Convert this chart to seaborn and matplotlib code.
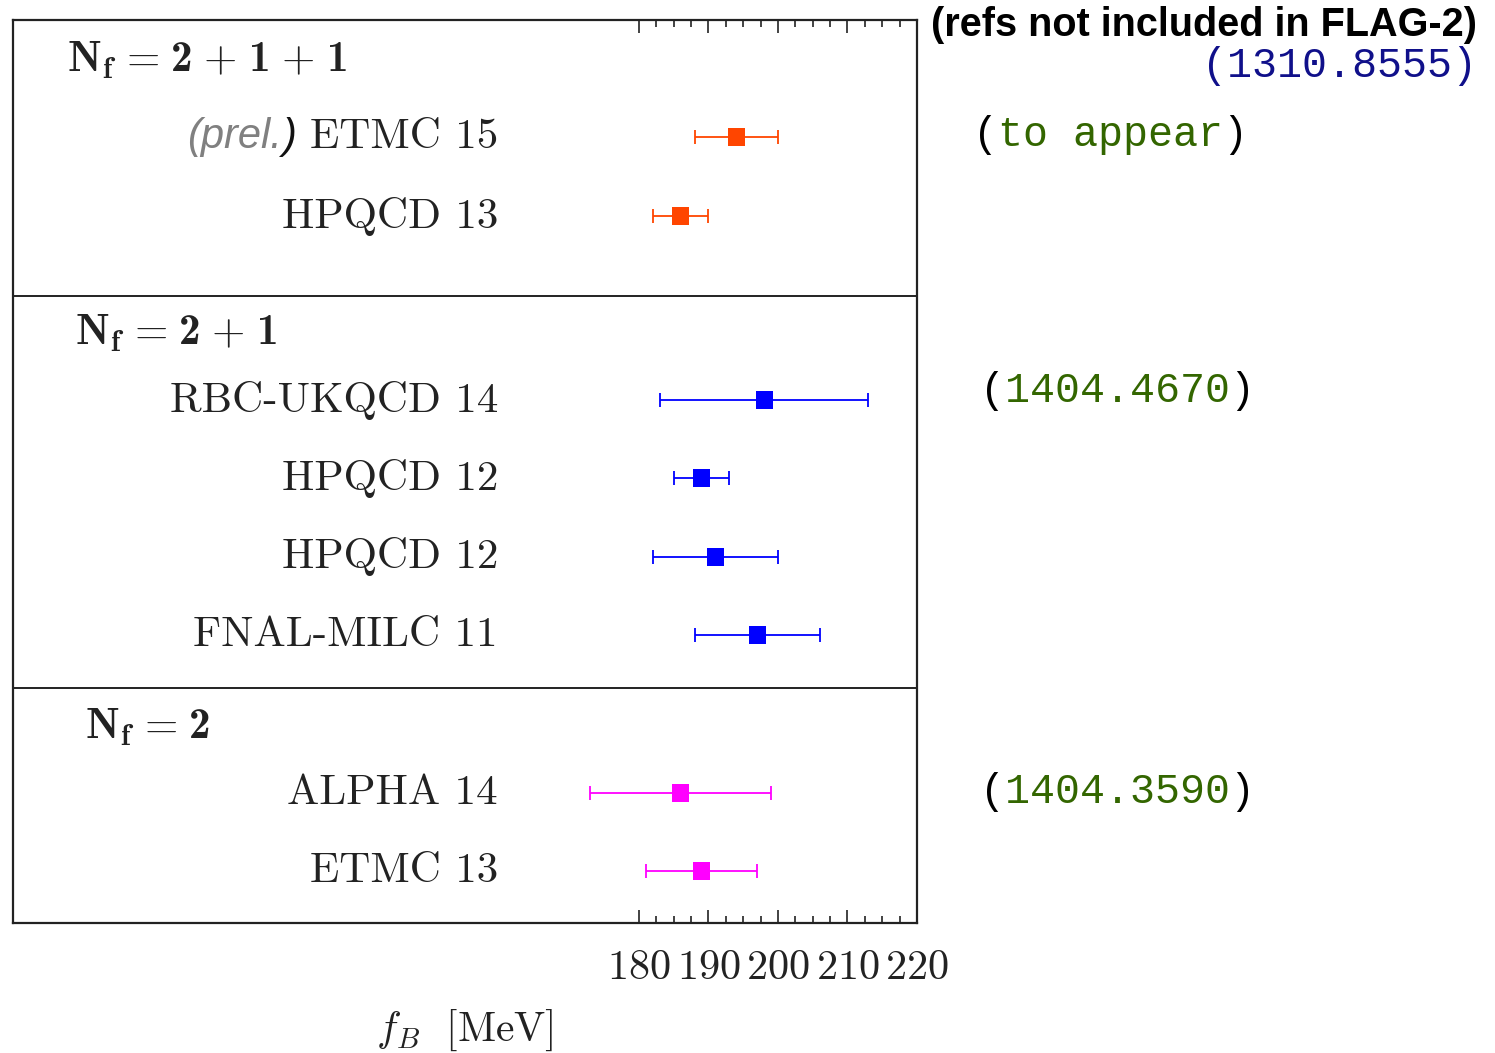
import matplotlib
matplotlib.use("Agg")
import matplotlib.pyplot as plt
import seaborn as sns
import pandas as pd
import numpy as np
from matplotlib.ticker import FixedLocator

# ---------------- data ----------------
labels = ["ETMC 15", "HPQCD 13",
          "RBC-UKQCD 14", "HPQCD 12", "HPQCD 12", "FNAL-MILC 11",
          "ALPHA 14", "ETMC 13"]
groups = ["2+1+1", "2+1+1",
          "2+1", "2+1", "2+1", "2+1",
          "2", "2"]
fB_values = [194.0, 186.0, 198.0, 189.0, 191.0, 197.0, 186.0, 189.0]
fB_errors = [6.0, 4.0, 15.0, 4.0, 9.0, 9.0, 13.0, 8.0]
group_names = ["2+1+1", "2+1", "2"]
major_ticks = [180, 190, 200, 210, 220]
minor_ticks = [182.5, 185, 187.5, 192.5, 195, 197.5, 202.5, 205, 207.5, 212.5, 215, 217.5]
refs = ["(1310.8555)", "(to appear)", "(1404.4670)", "(1404.3590)"]


def header_tex(name):
    sp = r"\hspace{0.1}"
    parts = name.split("+")
    body = (sp + "+" + sp).join(r"\mathbf{%s}" % p for p in parts)
    return r"$\mathbf{N_f}" + sp + "=" + sp + body + "$"


group_headers = [header_tex(g) for g in group_names]

# ---------------- layout (pixel-like vertical units) ----------------
W, H = 1495, 1053
row_y = [137, 216, 400, 478, 557, 635, 793, 871]
header_y = [60, 333, 727]
header_x = [67, 75, 85]
separators = [296, 688]
palette = {"2+1+1": "#ff4500", "2+1": "#0000ff", "2": "#ff00ff"}

df = pd.DataFrame({"label": labels, "group": groups, "fB": fB_values,
                   "err": fB_errors, "y": row_y})

sns.set_theme(style="white")
plt.rcParams["mathtext.fontset"] = "custom"
plt.rcParams["mathtext.rm"] = "cmr10"
plt.rcParams["mathtext.it"] = "cmmi10"
plt.rcParams["mathtext.bf"] = "cmb10"
plt.rcParams["mathtext.fallback"] = "cm"
plt.rcParams["axes.formatter.use_mathtext"] = True

fig = plt.figure(figsize=(W / 100, H / 100), dpi=100)
ax_left, ax_right, ax_top, ax_bot = 13, 917, 20, 923
ax = fig.add_axes([ax_left / W, 1 - ax_bot / H, (ax_right - ax_left) / W, (ax_bot - ax_top) / H])

px_per = (917 - 639) / 40.0
xmin = 180 - (639 - ax_left) / px_per
ax.set_xlim(xmin, 220)
ax.set_ylim(ax_bot, ax_top)


def px2x(px):
    return 180 + (px - 639) / px_per


ink = "#222222"

# error bars
for g in group_names:
    sub = df[df.group == g]
    ax.errorbar(sub.fB, sub.y, xerr=sub.err, fmt="none", ecolor=palette[g],
                elinewidth=1.3, capsize=4.8, capthick=1.3, zorder=2)
sns.scatterplot(data=df, x="fB", y="y", hue="group", palette=palette, marker="s",
                s=150, edgecolor="none", legend=False, ax=ax, zorder=3)

# separators
for s in separators:
    ax.axhline(s, color=ink, lw=1.4, zorder=1)

# labels
serif = "cmr10"
for lab, y in zip(labels, row_y):
    ax.text(px2x(498), y, lab, ha="right", va="center", fontsize=31,
            family=serif, color=ink)
for hdr, y, x in zip(group_headers, header_y, header_x):
    ax.text(px2x(x), y, hdr, ha="left", va="center", fontsize=31, color=ink)

# (prel.) : grey "(prel." followed by a black ")"
close_par = ax.text(px2x(296), 137, ")", ha="right", va="center", fontsize=30,
                    style="italic", family="Liberation Sans", color="#111111")
renderer = fig.canvas.get_renderer()
cp_w = close_par.get_window_extent(renderer).width
ax.text(px2x(296 - cp_w), 137, "(prel.", ha="right", va="center", fontsize=30,
        style="italic", family="Liberation Sans", color="#808080")

# axis styling
ax.xaxis.set_major_locator(FixedLocator(major_ticks))
ax.xaxis.set_minor_locator(FixedLocator(minor_ticks))
ax.set_yticks([])
ax.tick_params(axis="x", which="both", direction="in", top=True, bottom=True,
               color=ink, width=1.2)
ax.tick_params(axis="x", which="major", length=9.5, labelsize=30.5, pad=19)
ax.tick_params(axis="x", which="minor", length=5)
for lab in ax.get_xticklabels():
    lab.set_family(serif)
    lab.set_color(ink)
for sp in ax.spines.values():
    sp.set_color(ink)
    sp.set_linewidth(1.6)
ax.set_xlabel(r"$f_B\ \ [\mathrm{MeV}]$", fontsize=30, color=ink, labelpad=15)
ax.set_ylabel("")


# right-hand annotations
def fx(px):
    return px / W


def fy(py):
    return 1 - py / H


fig.text(fx(1477), fy(25), "(refs not included in FLAG-2)", ha="right", va="center",
         fontsize=28.5, weight="bold", family="Liberation Sans", color="black")
mono = "Liberation Mono"
msize = 30
navy = "#10108a"
green = "#336600"
fig.text(fx(1477), fy(66), refs[0], ha="right", va="center", fontsize=msize,
         family=mono, color=navy)
for ref, (x, y) in zip(refs[1:], [(973, 135), (980, 391), (980, 792)]):
    inner = ref[1:-1]
    fig.text(fx(x), fy(y), "(" + " " * len(inner) + ")", ha="left", va="center",
             fontsize=msize, family=mono, color="black")
    fig.text(fx(x), fy(y), " " + inner + " ", ha="left", va="center",
             fontsize=msize, family=mono, color=green)

fig.savefig("out.png", dpi=100, facecolor="white")
